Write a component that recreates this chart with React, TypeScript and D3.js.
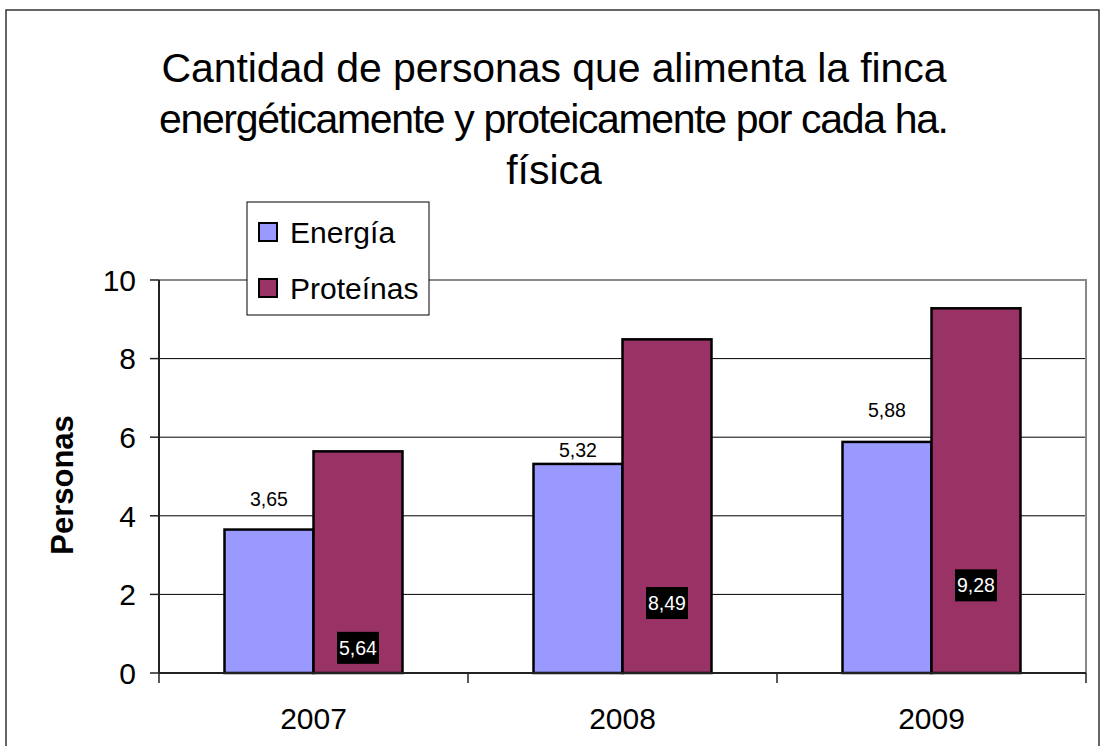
import React from "react";
import * as d3 from "d3";

const years = ["2007", "2008", "2009"];
const seriesNames = ["Energía", "Proteínas"];
const energia = [3.65, 5.32, 5.88];
const proteinas = [5.64, 8.49, 9.28];
const yTicks = [0, 2, 4, 6, 8, 10];
const titleLines = [
  "Cantidad de personas que alimenta la finca",
  "energéticamente y proteicamente por cada ha.",
  "física",
];
const yLabel = "Personas";
// label placement (style, not data)
const energiaLabelGap = [24, 7, 25];
const proteinaLabelAt = [0.64, 1.78, 2.23];
const titleWidths = [785, 790, 0];

const colors = ["#9999FF", "#993366"];
const W = 1107, H = 746;
const M = { left: 159, right: 1086, top: 280, bottom: 673 };

const fmt = (v: number) => v.toFixed(2).replace(".", ",");

export default function App() {
  const x = d3.scaleBand<string>().domain(years).range([M.left, M.right]).paddingInner(0).paddingOuter(0);
  const xs = d3.scaleBand<string>().domain(seriesNames).range([0, x.bandwidth()]).paddingInner(0).paddingOuter(0.736);
  const y = d3.scaleLinear().domain([0, 10]).range([M.bottom, M.top]);
  const values = [energia, proteinas];
  const font = "Arial, 'Liberation Sans', sans-serif";
  const boundaries = [M.left, ...years.map((yr) => (x(yr) as number) + x.bandwidth())];

  return (
    <div style={{ position: "absolute", left: 0, top: 0 }}>
      <svg width={W} height={H} style={{ display: "block", background: "#fff" }} fontFamily={font}>
        <rect x={6} y={10} width={1093} height={760} fill="#fff" stroke="#333" strokeWidth={1.5} />
        {titleLines.map((t, i) => (
          <text key={i} x={554} y={82 + i * 51} textAnchor="middle" fontSize={41} fill="#000"
            {...(titleWidths[i] ? { textLength: titleWidths[i], lengthAdjust: "spacing" } : {})}>{t}</text>
        ))}
        {/* gridlines */}
        {yTicks.filter((t) => t > 0 && t < 10).map((t) => (
          <line key={t} x1={M.left} x2={M.right} y1={y(t)} y2={y(t)} stroke="#000" strokeWidth={1} />
        ))}
        {/* plot border top/right gray */}
        <path d={`M${M.left},${y(10)}H${M.right}V${M.bottom}`} fill="none" stroke="#888" strokeWidth={2} />
        {/* bars */}
        {years.map((yr, i) => (
          <g key={yr}>
            {seriesNames.map((s, j) => (
              <rect key={s} x={(x(yr) as number) + (xs(s) as number)} y={y(values[j][i])} width={xs.bandwidth()}
                height={y(0) - y(values[j][i])} fill={colors[j]} stroke="#000" strokeWidth={2.5} />
            ))}
          </g>
        ))}
        {/* axes */}
        <line x1={M.left} x2={M.left} y1={M.top} y2={M.bottom} stroke="#222" strokeWidth={2} />
        <line x1={M.left} x2={M.right} y1={M.bottom} y2={M.bottom} stroke="#222" strokeWidth={2} />
        {yTicks.map((t) => (
          <g key={t}>
            <line x1={150} x2={M.left} y1={y(t)} y2={y(t)} stroke="#222" strokeWidth={1.5} />
            <text x={136} y={y(t)} dy="0.36em" textAnchor="end" fontSize={30}>{t}</text>
          </g>
        ))}
        {boundaries.map((bx, i) => (
          <line key={i} x1={bx} x2={bx} y1={M.bottom} y2={683} stroke="#222" strokeWidth={1.5} />
        ))}
        {years.map((yr) => (
          <text key={yr} x={(x(yr) as number) + x.bandwidth() / 2} y={729} textAnchor="middle" fontSize={30}>{yr}</text>
        ))}
        {/* data labels */}
        {years.map((yr, i) => {
          const cx0 = (x(yr) as number) + (xs("Energía") as number) + xs.bandwidth() / 2;
          const cx1 = (x(yr) as number) + (xs("Proteínas") as number) + xs.bandwidth() / 2;
          const ly = y(proteinaLabelAt[i]);
          return (
            <g key={yr}>
              <text x={cx0} y={y(energia[i]) - energiaLabelGap[i]} textAnchor="middle" fontSize={19.5}>{fmt(energia[i])}</text>
              <rect x={cx1 - 21} y={ly - 16} width={42} height={32} fill="#000" />
              <text x={cx1} y={ly} dy="0.36em" textAnchor="middle" fontSize={19.5} fill="#fff">{fmt(proteinas[i])}</text>
            </g>
          );
        })}
        {/* y label */}
        <text transform={`translate(73,485) rotate(-90)`} textAnchor="middle" fontSize={31} fontWeight="bold">{yLabel}</text>
        {/* legend */}
        <rect x={247} y={202} width={182} height={113} fill="#fff" stroke="#000" strokeWidth={1} />
        {seriesNames.map((s, j) => (
          <g key={s}>
            <rect x={259} y={(j === 0 ? 232 : 288) - 9} width={18} height={18} fill={colors[j]} stroke="#000" strokeWidth={2} />
            <text x={290} y={j === 0 ? 232 : 288} dy="0.36em" fontSize={30}>{s}</text>
          </g>
        ))}
      </svg>
    </div>
  );
}
